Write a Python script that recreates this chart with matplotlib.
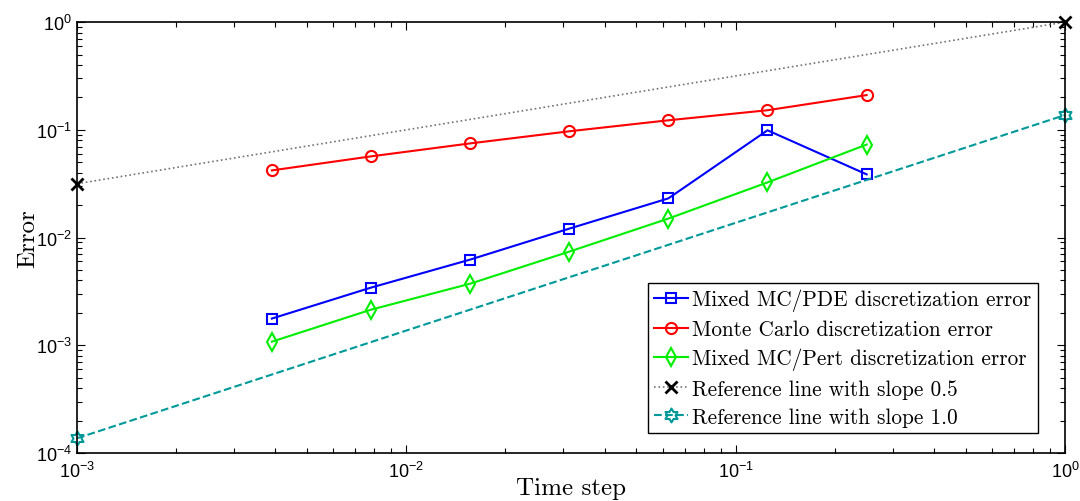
import numpy as np
import matplotlib.pyplot as plt
from matplotlib.path import Path

# time steps 2^-8 ... 2^-2
dt = [2.0 ** -k for k in range(8, 1, -1)]
err_pde = [0.00177, 0.00343, 0.00624, 0.0121, 0.0231, 0.099, 0.0386]
err_mc = [0.042, 0.0567, 0.0748, 0.0969, 0.1226, 0.152, 0.21]
err_pert = [0.00108, 0.00214, 0.00373, 0.0074, 0.0150, 0.0325, 0.073]

ref_x = [1e-3, 1.0]
ref_half = [0.0316, 1.0]
ref_one = [1.37e-4, 0.137]

# six-point star like MATLAB's hexagram
ang = np.pi / 2 + np.arange(12) * np.pi / 6
rad = np.where(np.arange(12) % 2 == 0, 1.0, 0.58)
verts = np.c_[rad * np.cos(ang), rad * np.sin(ang)]
hexagram = Path(np.vstack([verts, verts[:1]]), closed=True)

cm = ['cmr10', 'DejaVu Serif']
plt.rcParams['font.family'] = ['Liberation Sans', 'DejaVu Sans']
plt.rcParams['mathtext.fontset'] = 'custom'
plt.rcParams['mathtext.rm'] = 'Liberation Sans'
plt.rcParams['axes.unicode_minus'] = True

fig = plt.figure(figsize=(10.8, 5.02), dpi=100)
ax = fig.add_axes([0.0713, 0.0956, 0.9147, 0.8584])

ax.loglog(dt, err_pde, '-s', color='blue', lw=1.5, ms=7, mfc='none', mew=1.5,
          label='Mixed MC/PDE discretization error', clip_on=False)
ax.loglog(dt, err_mc, '-o', color='red', lw=1.5, ms=8, mfc='none', mew=1.5,
          label='Monte Carlo discretization error', clip_on=False)
ax.loglog(dt, err_pert, '-d', color='#00ee00', lw=1.5, ms=9, mfc='none', mew=1.5,
          label='Mixed MC/Pert discretization error', clip_on=False)
ax.loglog(ref_x, ref_half, ':x', color='0.45', mec='black', lw=1.2, ms=8, mew=2,
          label='Reference line with slope 0.5', clip_on=False)
ax.loglog(ref_x, ref_one, '--', marker=hexagram, color='#009999', lw=1.5, ms=10,
          mfc='none', mew=1.5, label='Reference line with slope 1.0', clip_on=False)

ax.set_xlim(1e-3, 1)
ax.set_ylim(1e-4, 1)
ax.tick_params(which='both', direction='in', top=True, right=True, labelsize=13,
               width=0.8)
ax.tick_params(axis='x', which='major', pad=6)
ax.tick_params(which='major', length=6)
ax.tick_params(which='minor', length=3.5)
for s in ax.spines.values():
    s.set_linewidth(1.2)

ax.set_xlabel('Time step', family=cm, fontsize=18, labelpad=-3)
ax.set_ylabel('Error', family=cm, fontsize=18, labelpad=-2)

leg = ax.legend(loc='lower right', bbox_to_anchor=(0.9727, 0.0465),
                prop={'family': cm, 'size': 15.3},
                fancybox=False, edgecolor='black', framealpha=1,
                handlelength=1.6, handletextpad=0.2, borderpad=0.3,
                labelspacing=0.4, borderaxespad=0)
leg.get_frame().set_linewidth(1.0)

fig.savefig('out.png', dpi=100)
